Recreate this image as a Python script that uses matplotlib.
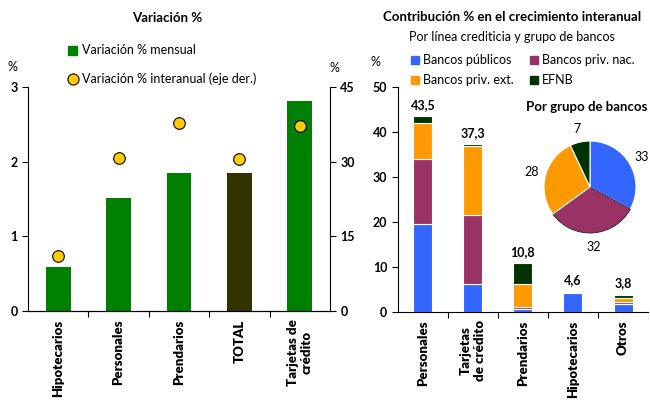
import matplotlib.pyplot as plt
import numpy as np

plt.rcParams['font.family'] = ['Lato', 'DejaVu Sans']

# Variación % por línea
lineas = ['Hipotecarios', 'Personales', 'Prendarios', 'TOTAL', 'Tarjetas de\ncrédito']
var_mensual = [0.59, 1.51, 1.85, 1.85, 2.81]
var_interanual = [11.0, 30.8, 37.7, 30.6, 37.1]
colores_barras = ['#008000', '#008000', '#008000', '#333300', '#008000']

# Contribución % por línea y grupo de bancos
lineas_contrib = ['Personales', 'Tarjetas\nde crédito', 'Prendarios', 'Hipotecarios', 'Otros']
grupos = ['Bancos públicos', 'Bancos priv. nac.', 'Bancos priv. ext.', 'EFNB']
publicos = [19.5, 6.3, 0.6, 4.3, 1.8]
priv_nac = [14.6, 15.2, 0.5, 0.2, 0.5]
priv_ext = [7.8, 15.4, 5.1, 0.05, 0.9]
efnb = [1.6, 0.4, 4.6, 0.05, 0.6]
totales = [43.5, 37.3, 10.8, 4.6, 3.8]
colores_grupos = ['#3366FF', '#993366', '#FF9900', '#003300']

# Participación por grupo de bancos
torta = [33, 32, 28, 7]

fig = plt.figure(figsize=(6.5, 4), dpi=100)

# ---- gráfico izquierdo ----
ax1 = fig.add_axes([0.043, 0.2225, 0.4646, 0.56])
x = np.arange(len(lineas))
ax1.bar(x, var_mensual, width=0.41, color=colores_barras, zorder=2)
ax1.set_ylim(0, 3)
ax1.set_xlim(-0.5, 4.5)
ax1.set_yticks([0, 1, 2, 3], labels=['0', '1', '2', '3'], fontweight='bold')
ax1b = ax1.twinx()
ax1b.scatter(x, var_interanual, s=70, color='#FFCC00', edgecolor='black',
             linewidth=0.8, zorder=3)
ax1b.set_ylim(0, 45)
ax1b.set_yticks([0, 15, 30, 45], labels=['0', '15', '30', '45'], fontweight='bold')

for a in (ax1, ax1b):
    a.spines['top'].set_visible(False)
    a.tick_params(axis='y', labelsize=9, length=4, width=0.8)
ax1.spines['right'].set_visible(False)
ax1b.spines['left'].set_visible(False)

ax1.set_xticks(x, labels=lineas, rotation=90, fontsize=9.5, fontweight='heavy',
               va='top', ha='center', multialignment='center')
ax1.tick_params(axis='x', which='major', length=0, pad=6)
ax1.set_xticks(x[:-1] + 0.5, minor=True)
ax1.tick_params(axis='x', which='minor', length=4, width=0.8)

fig.text(167 / 650, 1 - 18 / 400, 'Variación %', ha='center', va='center',
         fontsize=9.5, fontweight='bold')
fig.text(12 / 650, 1 - 67 / 400, '%', ha='center', va='center', fontsize=9)
fig.text(334 / 650, 1 - 68 / 400, '%', ha='center', va='center', fontsize=9)

# leyenda manual
fig.patches.append(plt.Rectangle((68 / 650, 1 - 55 / 400), 9 / 650, 9 / 400,
                                 transform=fig.transFigure, color='#008000'))
fig.text(82 / 650, 1 - 50 / 400, 'Variación % mensual', va='center', fontsize=9)
fig.lines.append(plt.Line2D([73 / 650], [1 - 79 / 400], marker='o', markersize=8,
                            markerfacecolor='#FFCC00', markeredgecolor='black',
                            markeredgewidth=0.8, transform=fig.transFigure))
fig.text(82 / 650, 1 - 79 / 400, 'Variación % interanual (eje der.)',
         va='center', fontsize=9)

# ---- gráfico derecho ----
ax2 = fig.add_axes([0.612, 0.22, 0.385, 0.5625])
x2 = np.arange(len(lineas_contrib))
base = np.zeros(len(x2))
for vals, col in zip([publicos, priv_nac, priv_ext, efnb], colores_grupos):
    ax2.bar(x2, vals, bottom=base, width=0.38, color=col, edgecolor='white',
            linewidth=0.8, zorder=2)
    base += np.array(vals)
for xi, tot in zip(x2, totales):
    ax2.text(xi, tot + 1.2, f'{tot:.1f}'.replace('.', ','), ha='center',
             va='bottom', fontsize=9, fontweight='bold')
ax2.set_ylim(0, 50)
ax2.set_xlim(-0.5, 4.5)
ax2.set_yticks([0, 10, 20, 30, 40, 50],
               labels=['0', '10', '20', '30', '40', '50'], fontweight='bold')
ax2.spines['top'].set_visible(False)
ax2.spines['right'].set_visible(False)
ax2.tick_params(axis='y', labelsize=9, length=4, width=0.8)
ax2.set_xticks(x2, labels=lineas_contrib, rotation=90, fontsize=9.5,
               fontweight='heavy', va='top', ha='center', multialignment='center')
ax2.tick_params(axis='x', which='major', length=0, pad=6)
ax2.set_xticks(x2[:-1] + 0.5, minor=True)
ax2.tick_params(axis='x', which='minor', length=4, width=0.8)

fig.text(512 / 650, 1 - 17 / 400, 'Contribución % en el crecimiento interanual',
         ha='center', va='center', fontsize=9.5, fontweight='bold')
fig.text(512 / 650, 1 - 37 / 400, 'Por línea crediticia y grupo de bancos',
         ha='center', va='center', fontsize=9)
fig.text(375 / 650, 1 - 62 / 400, '%', ha='center', va='center', fontsize=9)

pos_leyenda = [(411, 60), (530, 60), (411, 80), (530, 80)]
for (px, py), nombre, col in zip(pos_leyenda, grupos, colores_grupos):
    fig.patches.append(plt.Rectangle((px / 650, 1 - (py + 4) / 400), 8 / 650,
                                     8 / 400, transform=fig.transFigure, color=col))
    fig.text((px + 12) / 650, 1 - py / 400, nombre, va='center', fontsize=9)

# ---- torta ----
ax3 = fig.add_axes([544 / 650, 1 - 233 / 400, 92 / 650, 92 / 400])
wedges, textos = ax3.pie(torta, colors=colores_grupos, startangle=90,
                         counterclock=False, labels=torta, labeldistance=1.3,
                         wedgeprops=dict(edgecolor='white', linewidth=0.8),
                         textprops=dict(fontsize=9))
wedges[1].set_edgecolor('#222222')
wedges[1].set_linewidth(0.6)
for t in textos:
    t.set_clip_on(False)
    t.set_ha('center')
    t.set_va('center')
ax3.set_xlim(-1, 1)
ax3.set_ylim(-1, 1)
ax3.set_aspect('equal')
fig.text(587 / 650, 1 - 107 / 400, 'Por grupo de bancos', ha='center',
         va='center', fontsize=9.5, fontweight='bold')

fig.savefig('out.png', dpi=100)
